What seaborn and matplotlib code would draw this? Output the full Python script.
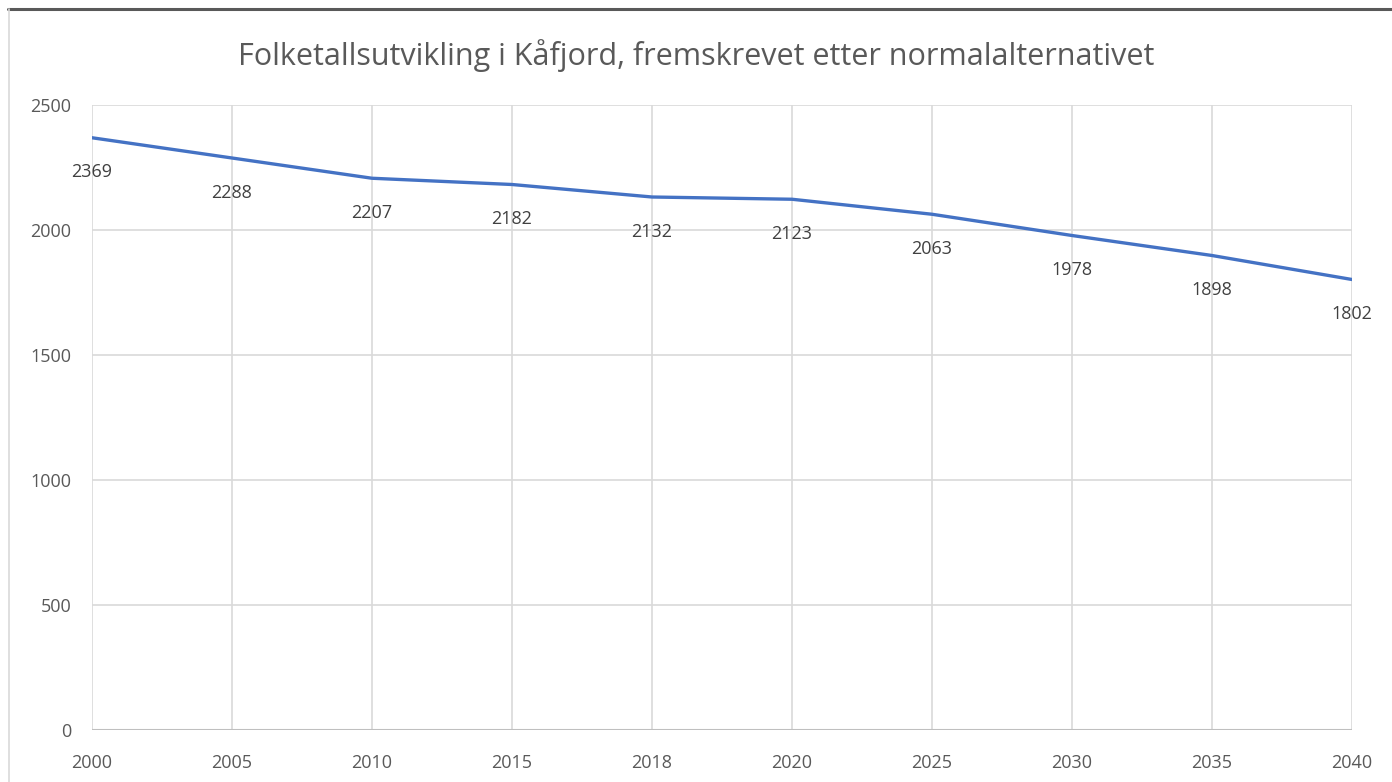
import matplotlib
matplotlib.use('Agg')
import matplotlib.pyplot as plt
import seaborn as sns
import pandas as pd
from matplotlib.lines import Line2D

years = ['2000', '2005', '2010', '2015', '2018', '2020', '2025', '2030', '2035', '2040']
population = [2369, 2288, 2207, 2182, 2132, 2123, 2063, 1978, 1898, 1802]

df = pd.DataFrame({'year': years, 'population': population})

sns.set_style('white')
plt.rcParams['font.family'] = ['Open Sans', 'DejaVu Sans']
text_col = '#595959'
grid_col = '#d9d9d9'

fig = plt.figure(figsize=(13.92, 7.82), dpi=100)
ax = fig.add_axes([92 / 1392, 1 - 730 / 782, 1260 / 1392, 625 / 782])

sns.lineplot(data=df, x='year', y='population', color='#4472C4', linewidth=2.4, ax=ax, sort=False)

for i, v in enumerate(population):
    ax.annotate(str(v), (i, v), xytext=(0, -25), textcoords='offset points',
                ha='center', va='center', fontsize=13, color='#404040')

ax.set_xlim(0, len(years) - 1)
ax.set_ylim(0, 2500)
ax.set_yticks(range(0, 2501, 500))
ax.grid(True, color=grid_col, linewidth=1.2)
ax.set_axisbelow(True)
for s in ax.spines.values():
    s.set_visible(False)
ax.axhline(0, color='#bfbfbf', linewidth=1.5, zorder=1)
ax.tick_params(axis='both', length=0, labelsize=13, labelcolor=text_col)
ax.tick_params(axis='x', pad=17)
ax.tick_params(axis='y', pad=15)
ax.set_xlabel('')
ax.set_ylabel('')

fig.text(0.5, 1 - 56 / 782, 'Folketallsutvikling i Kåfjord, fremskrevet etter normalalternativet',
         ha='center', va='center', fontsize=22, color=text_col)

# chart frame
fig.add_artist(Line2D([8 / 1392, 1], [1 - 9 / 782, 1 - 9 / 782], color='#595959', linewidth=2.2))
fig.add_artist(Line2D([9 / 1392, 9 / 1392], [0, 1 - 9 / 782], color='#d9d9d9', linewidth=1.2))

fig.savefig('out.png', dpi=100, facecolor='white')
